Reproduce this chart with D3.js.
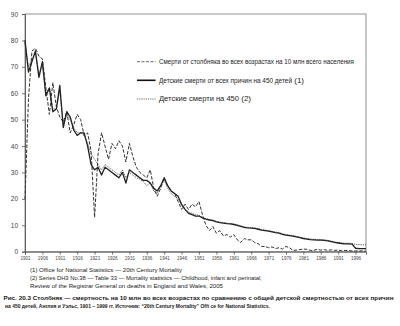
<!DOCTYPE html>
<html>
<head>
<meta charset="utf-8">
<script src="https://cdn.jsdelivr.net/npm/d3@7"></script>
<style>
  html, body { margin: 0; padding: 0; background: #fff; }
  svg { display: block; }
  text { font-family: "Liberation Sans", Arial, sans-serif; }
</style>
</head>
<body>
<svg id="chart" width="400" height="326"></svg>
<script>
// Years 1901–1999
const years = d3.range(1901, 2000);

// Tetanus deaths, all ages, per 10 million population
const tetanus = [
  20, 58, 76, 77, 74, 73, 62, 52, 64, 55,
  51, 49, 53, 45, 48, 52, 50, 44, 45, 38,
  13, 37, 45, 40, 35, 41, 39, 42, 40, 34,
  41, 36, 32, 30, 29, 28, 31, 24, 21, 24,
  28, 25, 23, 22, 19, 16, 18, 16, 18, 17,
  19, 14, 10, 8, 9.5, 7, 8, 6, 6.5, 5.5,
  6.5, 4.5, 3.5, 5, 4.5, 4.5, 3.5, 3, 2, 2,
  1.5, 1.8, 1.2, 1.5, 1, 2, 1.5, 0.5, 0.6, 0.8,
  1, 0.9, 0.5, 0.5, 0.9, 0.6, 0.8, 0.5, 0.7, 0.5,
  0.6, 0.4, 0.5, 0.4, 0.3, 0.3, 0.3, 0.3, 0.2
];

// Child deaths from all causes per 450 children (1)
const childAll = [
  80, 68, 72, 76, 66, 72, 59, 62, 53, 54,
  63, 47, 53, 51, 46, 44, 45, 45, 40, 33,
  31, 32, 29, 32, 31, 30, 29, 28, 30, 26,
  31, 30, 29, 28, 27, 27, 26, 24, 23, 25,
  28, 25, 23, 22, 21, 18, 16, 14.5, 14, 13.5,
  13.5, 12.8, 12.3, 12, 11.8, 11.3, 11, 10.8, 10.6, 10.5,
  10.3, 10, 9.6, 9.2, 9, 8.9, 8.8, 8.5, 8.2, 8,
  7.8, 7.5, 7.2, 7, 6.6, 6.3, 6.1, 5.9, 5.6, 5.3,
  5, 4.8, 4.6, 4.5, 4.4, 4.4, 4.3, 4.1, 3.8, 3.5,
  3.3, 3.1, 3, 3, 2.9, 1.3, 1.2, 1.2, 1.2
];

// Child deaths per 450 (2)
const childSeries2 = [
  79, 70, 73, 75, 67, 71, 60, 62, 54, 54,
  61, 48, 52, 50, 47, 45, 45, 44, 41, 37,
  35, 33, 31, 33, 32, 31, 30, 29, 31, 28,
  30, 29, 28, 27.5, 26.5, 25, 26, 23, 22, 25,
  27, 24, 22, 21, 20, 17.5, 16, 15, 14.5, 14,
  13.8, 13, 12.5, 12.2, 12, 11.5, 11.2, 11, 10.8, 10.7,
  10.5, 10.2, 9.8, 9.4, 9.2, 9.1, 9, 8.7, 8.4, 8.2,
  8, 7.7, 7.4, 7.2, 6.8, 6.5, 6.3, 6.1, 5.8, 5.5,
  5.2, 5, 4.8, 4.7, 4.6, 4.6, 4.5, 4.3, 4, 3.7,
  3.5, 3.3, 3.2, 3.2, 3.1, 2.8, 2.7, 2.6, 2.6
];

const xTickYears = d3.range(1901, 1997, 5);
const yTickValues = d3.range(0, 91, 10);

const legendLabels = [
  "Смерти от столбняка во всех возрастах на 10 млн всего населения",
  "Детские смерти от всех причин на 450 детей",
  "Детские смерти на 450"
];
const legendRefs = ["", " (1)", " (2)"];

const notes = [
  "(1) Office for National Statistics — 20th Century Mortality",
  "(2) Series DH3 No.38 — Table 33 — Mortality statistics — Childhood, infant and perinatal,",
  "Review of the Registrar General on deaths in England and Wales, 2005"
];
const caption = [
  "Рис. 20.3 Столбняк — смертность на 10 млн во всех возрастах по сравнению с общей детской смертностью от всех причин",
  "на 450 детей, Англия и Уэльс, 1901 – 1999 гг. Источник: “20th Century Mortality” Offi ce for National Statistics."
];

const svg = d3.select("#chart");
const plot = { left: 25, right: 366, top: 14, bottom: 251.7 };

const x = d3.scaleLinear().domain([1901, 1999]).range([plot.left, plot.right]);
const y = d3.scaleLinear().domain([0, 90]).range([plot.bottom, plot.top]);

// frame
svg.append("rect")
  .attr("x", plot.left).attr("y", plot.top)
  .attr("width", plot.right - plot.left).attr("height", plot.bottom - plot.top)
  .attr("fill", "none").attr("stroke", "#777").attr("stroke-width", 0.8);

// axes
const yAxis = svg.append("g")
  .attr("transform", `translate(${plot.left},0)`)
  .call(d3.axisLeft(y).tickValues(yTickValues).tickSize(3).tickPadding(4));
const xAxis = svg.append("g")
  .attr("transform", `translate(0,${plot.bottom})`)
  .call(d3.axisBottom(x).tickValues(xTickYears).tickFormat(d3.format("d")).tickSize(3).tickPadding(2));

[yAxis, xAxis].forEach(g => {
  g.select(".domain").attr("stroke", "#555").attr("stroke-width", 0.9);
  g.selectAll(".tick line").attr("stroke", "#555").attr("stroke-width", 0.8);
  g.selectAll(".tick text").attr("fill", "#444").attr("font-family", "Liberation Sans, Arial, sans-serif");
});
yAxis.selectAll(".tick text").attr("font-size", 6.5);
xAxis.selectAll(".tick text").attr("font-size", 4.6);

// series
const series = [
  { values: tetanus, width: 1.0, dash: "3.5,1.6", color: "#333" },
  { values: childSeries2, width: 0.8, dash: "1.2,1", color: "#333" },
  { values: childAll, width: 1.3, dash: null, color: "#222" }
];
const line = d3.line().x((d, i) => x(years[i])).y(d => y(d));

series.forEach(s => {
  svg.append("path")
    .datum(s.values)
    .attr("d", line)
    .attr("fill", "none")
    .attr("stroke", s.color)
    .attr("stroke-width", s.width)
    .attr("stroke-linejoin", "round")
    .attr("stroke-dasharray", s.dash);
});

// legend
const legendStyles = [
  { width: 1.0, dash: "3,1.5", color: "#666" },
  { width: 1.6, dash: null, color: "#111" },
  { width: 0.8, dash: "1.2,1", color: "#444" }
];
const legendY = [61.7, 80.3, 99];
const legendTextWidths = [195, 133, 80];
legendLabels.forEach((lab, i) => {
  const st = legendStyles[i];
  svg.append("line")
    .attr("x1", 137).attr("x2", 155.5)
    .attr("y1", legendY[i]).attr("y2", legendY[i])
    .attr("stroke", st.color).attr("stroke-width", st.width)
    .attr("stroke-dasharray", st.dash);
  const t = svg.append("text")
    .attr("x", 159).attr("y", legendY[i] + 2.2)
    .attr("font-size", 6.4).attr("fill", "#222");
  t.append("tspan").text(lab)
    .attr("textLength", legendTextWidths[i]).attr("lengthAdjust", "spacingAndGlyphs");
  if (legendRefs[i]) {
    t.append("tspan").text(legendRefs[i]).attr("font-size", 8);
  }
});

// source notes
const noteWidths = [152, 232, 193];
notes.forEach((n, i) => {
  svg.append("text")
    .attr("x", 30).attr("y", 272 + i * 7.9)
    .attr("font-size", 6).attr("fill", "#222")
    .attr("textLength", noteWidths[i]).attr("lengthAdjust", "spacingAndGlyphs")
    .text(n);
});

// caption
const captionX = [3.5, 5];
const captionWidths = [390, 265];
caption.forEach((c, i) => {
  svg.append("text")
    .attr("x", captionX[i]).attr("y", 299.8 + i * 8)
    .attr("font-size", 5.9).attr("fill", "#1a1a1a").attr("font-weight", 600)
    .attr("textLength", captionWidths[i]).attr("lengthAdjust", "spacingAndGlyphs")
    .text(c);
});
</script>
</body>
</html>
